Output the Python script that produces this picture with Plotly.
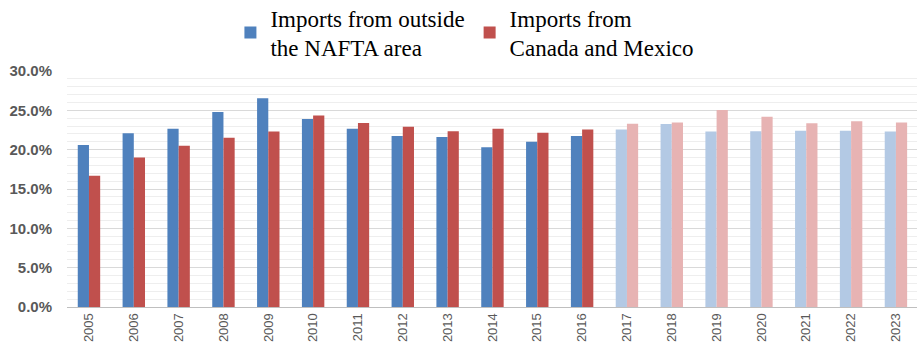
import plotly.graph_objects as go

years = [str(y) for y in range(2005, 2024)]
outside_nafta = [20.6, 22.1, 22.65, 24.8, 26.55, 23.9, 22.65, 21.75, 21.6, 20.3,
                 21.0, 21.75, 22.55, 23.25, 22.3, 22.35, 22.4, 22.4, 22.3]
canada_mexico = [16.7, 19.0, 20.5, 21.5, 22.3, 24.35, 23.4, 22.9, 22.35, 22.65,
                 22.15, 22.55, 23.3, 23.45, 25.05, 24.2, 23.35, 23.6, 23.45]
first_projected = "2017"

blue, blue_light = "#4F81BD", "#B3C9E4"
red, red_light = "#C0504D", "#E7B3B3"

def shade(dark, light):
    return [light if y >= first_projected else dark for y in years]

fig = go.Figure()
fig.add_trace(go.Bar(
    x=years, y=outside_nafta, name="Imports from outside<br>the NAFTA area",
    marker=dict(color=shade(blue, blue_light), line=dict(width=0)),
))
fig.add_trace(go.Bar(
    x=years, y=canada_mexico, name="Imports from<br>Canada and Mexico",
    marker=dict(color=shade(red, red_light), line=dict(width=0)),
))

fig.update_layout(
    width=917, height=361,
    margin=dict(l=67, r=0, t=71, b=54, autoexpand=False),
    paper_bgcolor="white", plot_bgcolor="white",
    barmode="group", bargap=0.5, bargroupgap=0,
    showlegend=True,
    legend=dict(
        orientation="h", x=0.507, xanchor="center", y=1.317, yanchor="top",
        xref="container", yref="paper",
        font=dict(family="Liberation Serif", size=23, color="black"),
        traceorder="normal", valign="middle",
        tracegroupgap=0, itemclick=False,
    ),
    xaxis=dict(
        type="category", range=[-0.49, 18.47],
        tickangle=-90, showgrid=False, ticks="",
        tickfont=dict(family="Liberation Sans", size=13, color="#595959"),
        showline=True, linecolor="#BFBFBF", linewidth=1,
    ),
    yaxis=dict(
        range=[0, 30], dtick=5, ticksuffix="%", tickformat=".1f",
        tickfont=dict(family="Liberation Sans", size=15, color="#595959", weight="bold"),
        ticklabelstandoff=14,
        showgrid=True, gridcolor="#D9D9D9", gridwidth=1,
        minor=dict(dtick=1, showgrid=True, gridcolor="#EEEEEE", gridwidth=1),
        zeroline=False, showline=False, ticks="",
    ),
)

fig.write_html("out.html")
